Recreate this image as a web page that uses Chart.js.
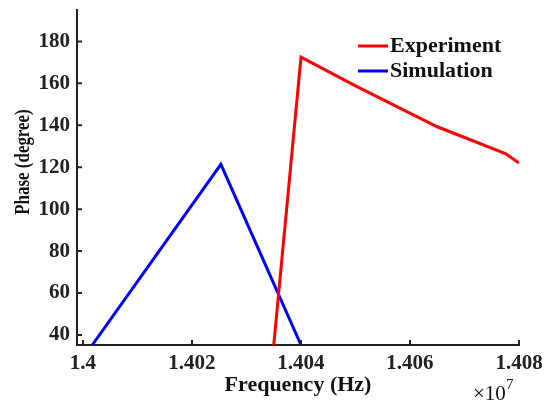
<!DOCTYPE html>
<html>
<head>
<meta charset="utf-8">
<script src="https://cdn.jsdelivr.net/npm/chart.js@4/dist/chart.umd.min.js"></script>
<style>
  html, body { margin: 0; padding: 0; background: #fff; }
  #wrap { width: 544px; height: 403px; position: relative; }
</style>
</head>
<body>
<div id="wrap"><canvas id="phaseChart"></canvas></div>
<script>
// frequency in units of 1e7 Hz
const expFreq  = [1.40350, 1.40400, 1.40500, 1.40650, 1.40775, 1.40800];
const expPhase = [35.2, 172.5, 158.8, 139.3, 126.5, 122.0];
const simFreq  = [1.40017, 1.40253, 1.40400];
const simPhase = [35.2, 121.4, 35.2];
const xTicks = [1.4, 1.402, 1.404, 1.406, 1.408];
const yTicks = [40, 60, 80, 100, 120, 140, 160, 180];

const FONT = "'Liberation Serif', 'Times New Roman', serif";

const pts = (xs, ys) => xs.map((x, i) => ({ x, y: ys[i] }));

// MATLAB-style inward ticks, y title, legend and the x10^7 exponent
const matlabBits = {
  id: 'matlabBits',
  afterDraw(chart) {
    const { ctx, chartArea: a, scales: { x, y } } = chart;
    ctx.save();
    ctx.strokeStyle = '#222';
    ctx.lineWidth = 2;
    ctx.beginPath();
    xTicks.forEach(v => { const px = x.getPixelForValue(v); ctx.moveTo(px, a.bottom); ctx.lineTo(px, a.bottom - 5); });
    yTicks.forEach(v => { const py = y.getPixelForValue(v); ctx.moveTo(a.left, py); ctx.lineTo(a.left + 5, py); });
    ctx.stroke();

    // y title (figure was stretched sideways, so squeeze along the text)
    ctx.save();
    ctx.translate(23, 162);
    ctx.rotate(-Math.PI / 2);
    ctx.scale(0.77, 1);
    ctx.font = `bold 22px ${FONT}`;
    ctx.fillStyle = '#111';
    ctx.textAlign = 'center';
    ctx.textBaseline = 'middle';
    ctx.fillText('Phase (degree)', 0, 0);
    ctx.restore();

    // legend
    ctx.font = `bold 22px ${FONT}`;
    ctx.textBaseline = 'middle';
    ctx.textAlign = 'left';
    chart.data.datasets.forEach((ds, i) => {
      const ly = 46 + i * 25;
      ctx.strokeStyle = ds.borderColor;
      ctx.lineWidth = 3;
      ctx.beginPath(); ctx.moveTo(358, ly); ctx.lineTo(388, ly); ctx.stroke();
      ctx.fillStyle = '#111';
      ctx.fillText(ds.label, 390, ly);
    });

    // exponent
    ctx.font = `21px ${FONT}`;
    ctx.textBaseline = 'alphabetic';
    ctx.fillText('\u00d710', 473, 400);
    ctx.font = `15px ${FONT}`;
    ctx.fillText('7', 506, 389);
    ctx.restore();
  }
};

new Chart(document.getElementById('phaseChart').getContext('2d'), {
  type: 'line',
  data: {
    datasets: [
      { label: 'Experiment', data: pts(expFreq, expPhase), borderColor: '#ff0000', borderWidth: 3, pointRadius: 0, tension: 0 },
      { label: 'Simulation', data: pts(simFreq, simPhase), borderColor: '#0000ff', borderWidth: 3, pointRadius: 0, tension: 0 },
    ],
  },
  options: {
    responsive: true,
    maintainAspectRatio: false,
    animation: false,
    layout: { padding: { top: 10, right: 25, left: 0, bottom: 0 } },
    plugins: { legend: { display: false }, tooltip: { enabled: false } },
    scales: {
      x: {
        type: 'linear', min: 1.39989, max: 1.408,
        afterBuildTicks: s => { s.ticks = xTicks.map(v => ({ value: v })); },
        afterFit: s => { s.height = 58; s.paddingLeft = 0; s.paddingRight = 0; },
        grid: { display: false, drawTicks: false },
        border: { color: '#222', width: 2 },
        ticks: { color: '#222', padding: 6, font: { family: FONT, size: 21, weight: 'bold' }, callback: v => String(+v.toFixed(3)) },
        title: { display: true, text: 'Frequency (Hz)', color: '#111', padding: { top: 3 }, font: { family: FONT, size: 22, weight: 'bold' } },
      },
      y: {
        min: 35.2, max: 195,
        afterBuildTicks: s => { s.ticks = yTicks.map(v => ({ value: v })); },
        afterFit: s => { s.width = 77; s.paddingTop = 0; s.paddingBottom = 0; },
        grid: { display: false, drawTicks: false },
        border: { color: '#222', width: 2 },
        ticks: { color: '#222', padding: 7, font: { family: FONT, size: 21, weight: 'bold' } },
      },
    },
  },
  plugins: [matlabBits],
});
</script>
</body>
</html>
